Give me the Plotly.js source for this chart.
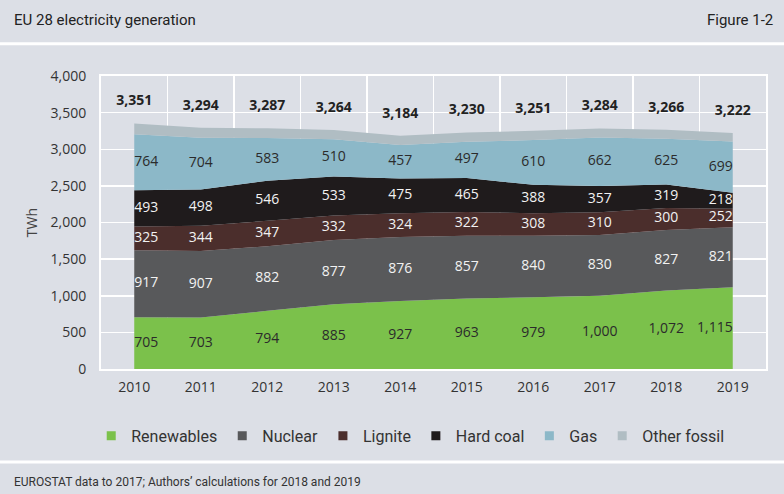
<!DOCTYPE html>
<html>
<head>
<meta charset="utf-8">
<script src="https://cdn.plot.ly/plotly-3.0.1.min.js"></script>
<style>
html,body{margin:0;padding:0;background:#dcdfe6;}
#chart{width:784px;height:494px;}
</style>
</head>
<body>
<div id="chart"></div>
<script>
const years = [2010, 2011, 2012, 2013, 2014, 2015, 2016, 2017, 2018, 2019];
const renewables = [705, 703, 794, 885, 927, 963, 979, 1000, 1072, 1115];
const nuclear = [917, 907, 882, 877, 876, 857, 840, 830, 827, 821];
const lignite = [325, 344, 347, 332, 324, 322, 308, 310, 300, 252];
const hardCoal = [493, 498, 546, 533, 475, 465, 388, 357, 319, 218];
const gas = [764, 704, 583, 510, 457, 497, 610, 662, 625, 699];
const otherFossil = [147, 138, 135, 127, 125, 126, 126, 125, 123, 117];
const totals = [3351, 3294, 3287, 3264, 3184, 3230, 3251, 3284, 3266, 3222];

const seriesNames = ['Renewables', 'Nuclear', 'Lignite', 'Hard coal', 'Gas', 'Other fossil'];
const seriesValues = [renewables, nuclear, lignite, hardCoal, gas, otherFossil];
const seriesColors = ['#7bc14b', '#58595b', '#4b2e2c', '#1f1b1c', '#8cb8c8', '#b0bdc3'];
const labelColors = ['#2b2b2b', '#f2f2f2', '#f2f2f2', '#f2f2f2', '#2b2b2b', null];

const FONT = 'Roboto, "Open Sans", sans-serif';
const NUMFONT = '"Open Sans", sans-serif';

const traces = [];
// stacked areas
seriesValues.forEach((vals, i) => {
  traces.push({
    type: 'scatter', x: years, y: vals, name: seriesNames[i],
    stackgroup: 'one', mode: 'none', fillcolor: seriesColors[i],
    line: {width: 0}, showlegend: false, hoverinfo: 'skip'
  });
});
// value labels at band middles
const cum = years.map(() => 0);
seriesValues.forEach((vals, i) => {
  const mids = vals.map((v, j) => cum[j] + v / 2);
  vals.forEach((v, j) => { cum[j] += v; });
  if (!labelColors[i]) return;
  traces.push({
    type: 'scatter', x: years, y: mids, mode: 'text',
    text: vals.map(v => v.toLocaleString('en-US')),
    textposition: years.map((y, j) => j === 0 ? 'middle right' : (j === years.length - 1 ? 'middle left' : 'middle center')),
    textfont: {family: NUMFONT, size: 14, color: labelColors[i]},
    showlegend: false, hoverinfo: 'skip'
  });
});
// totals
traces.push({
  type: 'scatter', x: years, y: totals.map(t => t + 200), mode: 'text',
  text: totals.map(t => '<b>' + t.toLocaleString('en-US') + '</b>'),
  textposition: 'top center',
  textfont: {family: NUMFONT, size: 14, color: '#222222'},
  showlegend: false, hoverinfo: 'skip'
});
// legend entries
seriesNames.forEach((n, i) => {
  traces.push({
    type: 'scatter', x: [null], y: [null], mode: 'markers', name: n,
    marker: {symbol: 'square', size: 9, color: seriesColors[i]},
    showlegend: true, hoverinfo: 'skip'
  });
});

const halfYears = years.map(y => y - 0.5).concat([years[years.length - 1] + 0.5]);

const layout = {
  width: 784, height: 494,
  margin: {l: 101, r: 18, t: 76, b: 125},
  paper_bgcolor: '#dcdfe6', plot_bgcolor: '#dcdfe6',
  font: {family: NUMFONT, color: '#333333'},
  showlegend: true,
  xaxis: {
    range: [2009.5, 2019.5], tickmode: 'array', tickvals: years,
    ticktext: years.map(String), showgrid: false, zeroline: false,
    tickfont: {family: NUMFONT, size: 14, color: '#333333'},
    ticks: '', ticklabelstandoff: 4,
    showline: true, linecolor: '#ffffff', linewidth: 2, mirror: true,
    minor: {tickmode: 'array', tickvals: halfYears, showgrid: true, gridcolor: '#ffffff', gridwidth: 1.5, ticks: ''}
  },
  yaxis: {
    range: [0, 4000], dtick: 500, tickformat: ',', showgrid: true,
    gridcolor: '#ffffff', gridwidth: 1.5, zeroline: false,
    tickfont: {family: NUMFONT, size: 14, color: '#333333'},
    ticks: '', ticklabelstandoff: 10,
    showline: true, linecolor: '#ffffff', linewidth: 2, mirror: true,
    title: {text: 'TWh', font: {family: NUMFONT, size: 14, color: '#444444'}, standoff: 10}
  },
  legend: {
    orientation: 'h', traceorder: 'normal', x: 0.465, xanchor: 'center', y: -0.228, yanchor: 'middle',
    font: {family: FONT, size: 16, color: '#333333'}, bgcolor: 'rgba(0,0,0,0)'
  },
  shapes: [
    {type: 'line', xref: 'paper', yref: 'paper', x0: -0.16, x1: 1.03, y0: 1.11, y1: 1.11, line: {color: '#ffffff', width: 3}},
    {type: 'line', xref: 'paper', yref: 'paper', x0: -0.16, x1: 1.03, y0: -0.317, y1: -0.317, line: {color: '#ffffff', width: 3}}
  ],
  annotations: [
    {xref: 'paper', yref: 'paper', x: -0.134, y: 1.19, xanchor: 'left', yanchor: 'middle', showarrow: false,
     text: 'EU 28 electricity generation', font: {family: FONT, size: 15, color: '#222222'}},
    {xref: 'paper', yref: 'paper', x: 1.0135, y: 1.19, xanchor: 'right', yanchor: 'middle', showarrow: false,
     text: 'Figure 1-2', font: {family: FONT, size: 15, color: '#222222'}},
    {xref: 'paper', yref: 'paper', x: -0.134, y: -0.385, xanchor: 'left', yanchor: 'middle', showarrow: false,
     text: 'EUROSTAT data to 2017; Authors\u2019 calculations for 2018 and 2019', font: {family: FONT, size: 12, color: '#333333'}}
  ]
};

Plotly.newPlot('chart', traces, layout, {displayModeBar: false, staticPlot: true});
</script>
</body>
</html>
